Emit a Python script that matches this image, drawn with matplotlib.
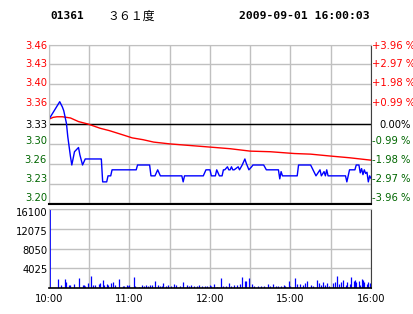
import matplotlib
matplotlib.use("Agg")
import matplotlib.pyplot as plt
import matplotlib.transforms as mtransforms

# header
code = "01361"
name = "３６１度"
stamp = "2009-09-01 16:00:03"

# price scale
prev_close = 3.33
pct_levels = [-3.96, -2.97, -1.98, -0.99, 0.00, 0.99, 1.98, 2.97, 3.96]
price_labels = ["3.20", "3.23", "3.26", "3.30", "3.33", "3.36", "3.40", "3.43", "3.46"]
pct_labels = ["-3.96 %", "-2.97 %", "-1.98 %", "-0.99 %", "0.00%",
              "+0.99 %", "+1.98 %", "+2.97 %", "+3.96 %"]

time_ticks = [0, 60, 120, 180, 240]
time_labels = ["10:00", "11:00", "12:00", "15:00", "16:00"]
vol_ticks = [4025, 8050, 12075, 16100]
vol_labels = ["4025", "8050", "12075", "16100"]

# price line (minute index, price)
price_min = [0, 8, 10, 11, 13, 14, 16, 17, 18, 19, 22, 23, 25, 27, 39, 40, 43, 44, 46, 47,
             65, 66, 75, 76, 79, 81, 83, 99, 100, 101, 115, 117, 120, 121, 124, 125, 127,
             129, 130, 131, 133, 134, 135, 136, 137, 138, 141, 142, 144, 146, 147, 149, 151,
             152, 160, 162, 171, 172, 173, 174, 185, 186, 195, 199, 202, 203, 205, 206, 207,
             208, 221, 222, 224, 228, 229, 231, 232, 233, 234, 235, 236, 237, 238, 239, 240]
price_val = [3.338, 3.367, 3.358, 3.352, 3.331, 3.309, 3.276, 3.262, 3.273, 3.284, 3.291, 3.279,
             3.262, 3.272, 3.272, 3.234, 3.234, 3.244, 3.244, 3.254,
             3.254, 3.262, 3.262, 3.244, 3.244, 3.254, 3.244, 3.244, 3.234, 3.244, 3.244, 3.254,
             3.254, 3.244, 3.244, 3.254, 3.244,
             3.244, 3.254, 3.254, 3.259, 3.254, 3.254, 3.259, 3.254, 3.254, 3.259, 3.254, 3.262,
             3.272, 3.265, 3.254, 3.259,
             3.262, 3.262, 3.254, 3.254, 3.239, 3.251, 3.244, 3.244, 3.262, 3.262, 3.244, 3.254,
             3.244, 3.251, 3.244, 3.254,
             3.244, 3.244, 3.234, 3.254, 3.254, 3.262, 3.262, 3.249, 3.256, 3.246, 3.254, 3.248,
             3.250, 3.234, 3.244, 3.240]

# average price line
avg_min = [0, 3, 6, 10, 16, 22, 29, 38, 45, 55, 62, 70, 78, 90, 107, 124, 135, 150, 165,
           183, 195, 209, 224, 240]
avg_val = [3.338, 3.341, 3.342, 3.342, 3.340, 3.334, 3.330, 3.323, 3.319, 3.312, 3.307,
           3.304, 3.300, 3.297, 3.294, 3.291, 3.289, 3.285, 3.284, 3.281, 3.280, 3.277,
           3.274, 3.270]

# volume bars
vol_min = [0, 7, 9, 12, 13, 15, 16, 19, 22, 25, 26, 27, 29, 31, 33, 34, 37, 38, 40, 41, 43,
           44, 46, 48, 49, 52, 55, 56, 58, 59, 60, 63, 64, 67, 69, 71, 72, 74, 75, 77, 79,
           81, 83, 84, 85, 87, 89, 91, 93, 95, 98, 100, 103, 104, 106, 108, 110, 112, 114,
           116, 118, 120, 121, 123, 125, 128, 130, 132, 134, 136, 138, 140, 142, 144, 146,
           147, 149, 151, 153, 156, 158, 160, 163, 165, 167, 169, 171, 173, 175, 176, 179,
           180, 183, 185, 187, 189, 191, 192, 195, 197, 200, 201, 203, 204, 206, 207, 209,
           212, 213, 215, 216, 218, 219, 221, 222, 224, 225, 227, 228, 229, 231, 232, 233,
           234, 235, 237, 238, 239]
vol_val = [16100, 1840, 600, 1800, 1200, 600, 600, 800, 2000, 700, 600, 500, 1000, 2450, 600,
           600, 800, 1000, 1600, 600, 800,
           700, 1100, 1200, 600, 1800, 400, 500, 600, 500, 700, 2250, 400, 300, 600, 500, 600,
           500, 600, 700, 1400,
           600, 400, 500, 1100, 400, 700, 400, 900, 700, 500, 1200, 600, 500, 700, 500, 400,
           600, 500,
           500, 400, 700, 400, 900, 300, 2000, 500, 500, 1100, 400, 600, 700, 900, 2200, 1400,
           1400, 2000, 900, 400, 400, 500, 400, 800, 400, 800, 400, 400, 500, 600, 500, 1400,
           400, 2000, 900, 900, 700, 1100, 1400, 700, 500, 1600, 1100, 600, 1200, 700, 1100,
           500,
           1100, 1300, 2450, 900, 1300, 1600, 700, 1300, 900, 2200, 1400, 1600, 1200, 1500,
           700, 1800,
           1600, 1200, 900, 1300, 1000]

RED = "#ff0000"
GREEN = "#006600"
GRID = "#c0c0c0"
BLUE = "#0000ff"

W, H = 414, 314
fig = plt.figure(figsize=(W / 100, H / 100), dpi=100)
ax = fig.add_axes([49 / W, 1 - 203.5 / H, 322 / W, 159 / H])
axv = fig.add_axes([49 / W, 1 - 288 / H, 322 / W, 79 / H])

levels = [prev_close * (1 + p / 100) for p in pct_levels]
label_colors = [GREEN] * 4 + ["black"] + [RED] * 4
# labels sit a little off their grid lines in the original
label_nudge = [5.5, 4.5, 4, 3, -0.5, 1.5, 1, 0, -1.5]

# price panel
ax.set_xlim(0, 240)
ax.set_ylim(levels[0], levels[-1])
ax.set_xticks(range(0, 241, 30))
ax.set_yticks(levels)
ax.tick_params(length=0, labelbottom=False, labelleft=False)
ax.grid(True, color=GRID, lw=1.0)
ax.set_axisbelow(True)
ax.axhline(prev_close, color="black", lw=1.0)
ax.plot(avg_min, avg_val, color=RED, lw=1.0)
ax.plot(price_min, price_val, color=BLUE, lw=1.0)

ytr = ax.get_yaxis_transform()
for lv, lab, pct, c, dy in zip(levels, price_labels, pct_labels, label_colors, label_nudge):
    tl = mtransforms.offset_copy(ytr, fig=fig, x=-2, y=dy, units="dots")
    ax.text(0.0, lv, lab, transform=tl, color=c, fontsize=7.2, ha="right", va="center")
    dx = 8 if pct == "0.00%" else 1
    tr = mtransforms.offset_copy(ytr, fig=fig, x=dx, y=dy, units="dots")
    ax.text(1.0, lv, pct, transform=tr, color=c, fontsize=7.2, ha="left", va="center")

for s in ("left", "top"):
    ax.spines[s].set_color(GRID)
ax.spines["right"].set_color("#404040")
ax.spines["bottom"].set_color("black")
ax.spines["bottom"].set_linewidth(1.5)

# volume panel
axv.set_xlim(0, 240)
axv.set_ylim(0, 16100)
axv.set_xticks(range(0, 241, 30))
axv.set_xticklabels([time_labels[time_ticks.index(t)] if t in time_ticks else ""
                     for t in range(0, 241, 30)])
axv.set_yticks([0] + vol_ticks)
axv.tick_params(length=0, labelsize=7.2, labelleft=False)
axv.tick_params(axis="x", pad=4)
axv.grid(True, color=GRID, lw=1.0)
axv.set_axisbelow(True)
vtr = axv.get_yaxis_transform()
vol_nudge = [-2, -2.5, -3.5, -4.5]
for v, lab, dy in zip(vol_ticks, vol_labels, vol_nudge):
    t = mtransforms.offset_copy(vtr, fig=fig, x=-1, y=dy, units="dots")
    axv.text(0.0, v, lab, transform=t, fontsize=7.2, ha="right", va="center")
axv.vlines(vol_min, 0, vol_val, color=BLUE, lw=0.9)
axv.vlines([vol_min[0]], 0, [vol_val[0]], color=BLUE, lw=2.0)
for s in ("left", "top"):
    axv.spines[s].set_color(GRID)
axv.spines["right"].set_color("#404040")
axv.spines["bottom"].set_color("black")
axv.spines["bottom"].set_linewidth(1.2)

# header
fig.text(50 / W, 1 - 16 / H, code, fontsize=8, fontweight="bold",
         family="DejaVu Sans Mono", va="center", ha="left")
fig.text(107 / W, 1 - 16 / H, name, fontsize=8.6,
         family=["Noto Sans CJK SC", "DejaVu Sans"], va="center", ha="left")
fig.text(370 / W, 1 - 16 / H, stamp, fontsize=8.2, fontweight="bold",
         family="DejaVu Sans Mono", va="center", ha="right")

fig.savefig("out.png", dpi=100)
